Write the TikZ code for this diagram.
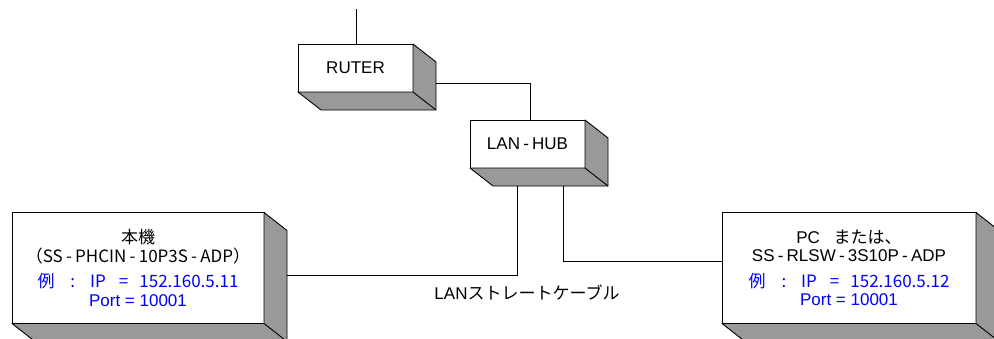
\documentclass[tikz,border=0pt]{standalone}
\usepackage{fontspec}
\setmainfont{Liberation Sans}
\newfontfamily\jp{Noto Sans CJK JP}
\newcommand\hy{\hspace{0.19em}-\hspace{0.19em}}
% gray depth faces of a device box
\newcommand\boxdepth[1]{%
  \filldraw[boxside] (#1.north east) -- ([shift={(23,18)}]#1.north east)
    -- ([shift={(23,18)}]#1.south east) -- ([shift={(23,18)}]#1.south west)
    -- (#1.south west) -- (#1.south east) -- cycle;
  \draw[boxside] (#1.south east) -- ([shift={(23,18)}]#1.south east);
}
\begin{document}
\begin{tikzpicture}[x=1pt,y=-1pt,
    device/.style={draw,fill=white,line width=0.9pt,inner sep=0pt,outer sep=0pt,align=center},
    boxside/.style={fill=black!40,draw=black,line width=0.9pt,line join=round},
    cable/.style={line width=0.9pt},
    every node/.style={font=\fontsize{17}{18.5}\selectfont}]
    \path[use as bounding box,clip] (0,0) rectangle (994,338);
    \node[device,minimum width=115pt,minimum height=48pt] (ruter) at (355.5,68) {RUTER};
    \node[device,minimum width=115pt,minimum height=48pt] (hub) at (527.5,144) {LAN\hy HUB};
    \node[device,minimum width=252pt,minimum height=111pt] (host) at (138,268) {%
        \jp{本機}\\
        \jp{（}SS\hy PHCIN\hy 10P3S\hy ADP\jp{）}\\[7pt]
        \textcolor{blue}{\jp{例}\hspace{16pt}:\hspace{15pt}IP\hspace{13pt}=\hspace{11pt}152.160.5.11}\\
        \textcolor{blue}{Port = 10001}\hspace{12pt}};
    \node[device,minimum width=254pt,minimum height=111pt] (pc) at (849,268) {%
        PC\hspace{0.8em}\jp{または、}\\
        SS\hy RLSW\hy 3S10P\hy ADP\\[7pt]
        \textcolor{blue}{\jp{例}\hspace{16pt}:\hspace{15pt}IP\hspace{13pt}=\hspace{11pt}152.160.5.12}\\
        \textcolor{blue}{Port = 10001}\hspace{12pt}};
    \boxdepth{ruter}
    \boxdepth{hub}
    \boxdepth{host}
    \boxdepth{pc}
    \node (cablelbl) at (527,293) {LAN\jp{ストレートケーブル}};
    \coordinate (wan) at (356,9);
    \draw[cable] (wan) -- (wan |- ruter.north);
    \draw[cable] ([shift={(23,15)}]ruter.east) -| ([xshift=2.5]hub.north);
    \draw[cable] ([shift={(-10.5,18)}]hub.south) |- ([shift={(23,7)}]host.east);
    \draw[cable] ([shift={(35.5,18)}]hub.south) |- ([yshift=7]pc.west);
\end{tikzpicture}
\end{document}
